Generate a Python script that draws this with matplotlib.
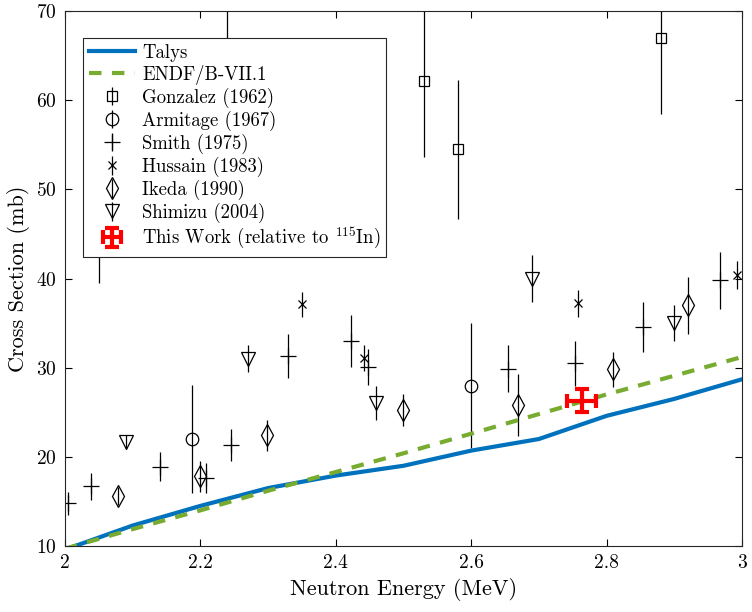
import matplotlib
matplotlib.use("Agg")
import matplotlib.pyplot as plt

plt.rcParams['font.family'] = 'serif'
plt.rcParams['font.serif'] = ['cmr10']
plt.rcParams['mathtext.fontset'] = 'cm'
plt.rcParams['axes.formatter.use_mathtext'] = True

# model curves
talys_e = [2.0, 2.1, 2.2, 2.3, 2.4, 2.5, 2.6, 2.7, 2.8, 2.9, 3.0]
talys_xs = [9.6, 12.3, 14.5, 16.5, 17.9, 19.0, 20.7, 22.0, 24.6, 26.5, 28.7]
endf_e = [2.0, 2.1, 2.2, 2.3, 2.4, 2.5, 2.6, 2.7, 2.8, 2.9, 3.0]
endf_xs = [9.7, 11.9, 14.0, 16.2, 18.3, 20.4, 22.6, 24.8, 27.0, 29.1, 31.2]

# experimental data (E MeV, xs mb, err mb)
gonzalez_e = [2.05, 2.24, 2.53, 2.58, 2.88]
gonzalez_xs = [47.8, 75.2, 62.1, 54.5, 67.0]
gonzalez_err = [8.3, 8.3, 8.5, 7.8, 8.5]

armitage_e = [2.188, 2.6]
armitage_xs = [22.0, 28.0]
armitage_err = [6.1, 7.0]

smith_e = [2.005, 2.038, 2.141, 2.208, 2.245, 2.33, 2.423, 2.448, 2.654, 2.754, 2.854, 2.968]
smith_xs = [14.8, 16.7, 18.9, 17.6, 21.3, 31.3, 33.0, 30.1, 29.9, 30.5, 34.6, 39.8]
smith_err = [1.3, 1.5, 1.6, 1.7, 1.8, 2.5, 2.9, 2.0, 2.6, 2.5, 2.8, 3.2]

hussain_e = [2.35, 2.442, 2.758, 2.992]
hussain_xs = [37.1, 31.1, 37.2, 40.4]
hussain_err = [1.4, 1.5, 1.5, 1.6]

ikeda_e = [2.079, 2.199, 2.299, 2.499, 2.669, 2.809, 2.92]
ikeda_xs = [15.6, 17.8, 22.4, 25.3, 25.8, 29.8, 37.0]
ikeda_err = [1.0, 1.7, 1.7, 1.8, 3.5, 2.0, 3.2]

shimizu_e = [2.09, 2.27, 2.46, 2.69, 2.899]
shimizu_xs = [21.7, 31.0, 26.0, 40.0, 35.0]
shimizu_err = [0.8, 1.5, 1.9, 2.6, 2.0]

this_e = [2.763]
this_xs = [26.3]
this_xerr = [0.022]
this_err = [1.3]

fig = plt.figure(figsize=(7.52, 6.12), dpi=100)
ax = fig.add_axes([0.0864, 0.1078, 0.9003, 0.8742])

ax.plot(talys_e, talys_xs, color='#0072BD', lw=3, label='Talys', zorder=3)
ax.plot(endf_e, endf_xs, color='#77AC30', lw=3, ls=(0, (3, 2.5)), label='ENDF/B-VII.1', zorder=3)

kw = dict(color='black', ls='none', elinewidth=0.9, capsize=0, mfc='none', mew=0.9, zorder=2)
ax.errorbar(gonzalez_e, gonzalez_xs, yerr=gonzalez_err, marker='s', ms=6.5, label='Gonzalez (1962)', **kw)
ax.errorbar(armitage_e, armitage_xs, yerr=armitage_err, marker='o', ms=9, label='Armitage (1967)', **kw)
ax.errorbar(smith_e, smith_xs, yerr=smith_err, marker='+', ms=11, label='Smith (1975)', **kw)
ax.errorbar(hussain_e, hussain_xs, yerr=hussain_err, marker='x', ms=6, label='Hussain (1983)', **kw)
ax.errorbar(ikeda_e, ikeda_xs, yerr=ikeda_err, marker='d', ms=11, label='Ikeda (1990)', **kw)
ax.errorbar(shimizu_e, shimizu_xs, yerr=shimizu_err, marker='v', ms=10, label='Shimizu (2004)', **kw)
ax.errorbar(this_e, this_xs, xerr=this_xerr, yerr=this_err, color='red', ls='none',
            elinewidth=3, capsize=5, capthick=3, zorder=4,
            label=r'This Work (relative to $^{115}$In)')

ax.set_xlim(2, 3)
ax.set_ylim(10, 70)
ax.set_xticks([2, 2.2, 2.4, 2.6, 2.8, 3])
ax.set_xticklabels(['2', '2.2', '2.4', '2.6', '2.8', '3'])
ax.set_yticks([10, 20, 30, 40, 50, 60, 70])
ax.tick_params(direction='in', top=True, right=True, labelsize=14, length=5, width=0.8, pad=6)
for s in ax.spines.values():
    s.set_linewidth(0.8)
    s.set_color('#262626')

ax.set_xlabel('Neutron Energy (MeV)', fontsize=16)
ax.set_ylabel('Cross Section (mb)', fontsize=16)

leg = ax.legend(loc='upper left', bbox_to_anchor=(0.0266, 0.9495), fontsize=13.5, frameon=True,
                fancybox=False, edgecolor='#262626', framealpha=1, handlelength=2.5,
                labelspacing=0.155, borderpad=0.3, handletextpad=0.35, borderaxespad=0)
leg.get_frame().set_linewidth(0.8)
leg.set_zorder(10)

plt.savefig('out.png', dpi=100)
